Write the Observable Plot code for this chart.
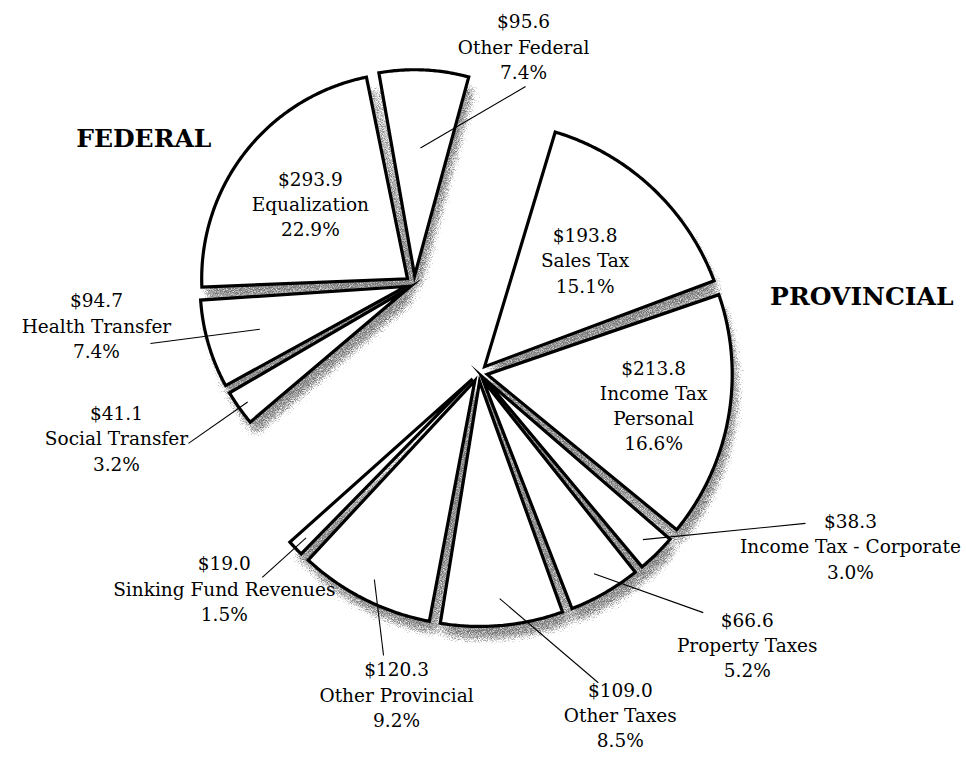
<!DOCTYPE html>
<html><head><meta charset="utf-8">
<script src="https://cdn.jsdelivr.net/npm/d3@7"></script>
<script src="https://cdn.jsdelivr.net/npm/@observablehq/plot@0.6"></script>
<style>body{margin:0;background:#fff}</style>
</head><body><div id="chart"></div>
<script>
// ---- data ----
const names = ["Sales Tax", "Income Tax Personal", "Income Tax - Corporate", "Property Taxes", "Other Taxes", "Other Provincial", "Sinking Fund Revenues", "Social Transfer", "Health Transfer", "Equalization", "Other Federal"];
const labelNames = ["Sales Tax", "Income Tax\nPersonal", "Income Tax - Corporate", "Property Taxes", "Other Taxes", "Other Provincial", "Sinking Fund Revenues", "Social Transfer", "Health Transfer", "Equalization", "Other Federal"];
const amounts = [193.8, 213.8, 38.3, 66.6, 109.0, 120.3, 19.0, 41.1, 94.7, 293.9, 95.6];
const percents = [15.1, 16.6, 3.0, 5.2, 8.5, 9.2, 1.5, 3.2, 7.4, 22.9, 7.4];
const groups = ["Provincial", "Provincial", "Provincial", "Provincial", "Provincial", "Provincial", "Provincial", "Federal", "Federal", "Federal", "Federal"];
const groupTitles = ["FEDERAL", "PROVINCIAL"];

// ---- layout (styling / placement only) ----
const W = 966, H = 769, S = 245, CX = 446, CY = 328;
const rad = d => d * Math.PI / 180;
const pol = (a, r) => [Math.sin(rad(a)) * r, Math.cos(rad(a)) * r];
const groupStyle = {
  Provincial: {dir: 144, dist: 0.224, R: 1.0, title: [85.7, 1.70]},
  Federal: {dir: 324, dist: 0.224, R: 0.84, title: [302, 1.457]}
};
const sliceExplode = 0.035;
const padDeg = 1.5;
const labelLayout = {
  "Sales Tax": {inside: 0.6},
  "Income Tax Personal": {inside: 0.69},
  "Equalization": {inside: 0.6},
  "Other Federal": {lead: 0.62, end: [18.1, 1.039], off: [-2, -41]},
  "Income Tax - Corporate": {lead: 0.92, end: [118.5, 1.667], off: [45, 22]},
  "Property Taxes": {lead: 0.91, end: [137.9, 1.563], off: [44, 31]},
  "Other Taxes": {lead: 0.89, end: [156.8, 1.573], off: [22, 31]},
  "Other Provincial": {lead: 0.91, end: [190.9, 1.359], off: [13, 38]},
  "Sinking Fund Revenues": {lead: 0.94, end: [216.5, 1.264], off: [-38, 10]},
  "Social Transfer": {lead: 0.95, end: [246, 1.153], off: [-72, -6]},
  "Health Transfer": {lead: 0.74, end: [267.1, 1.21], off: [-54, -19]}
};
const shadowOffset = [5 / S, -12 / S];

// ---- geometry from data ----
const rows = names.map((n, i) => ({name: n, label: labelNames[i], amount: amounts[i], pct: percents[i], group: groups[i]}));
const arcs = d3.pie().sort(null).value(d => d.amount).startAngle(rad(16)).endAngle(rad(376))(rows);

const poly = [], shadow = [], labels = [], links = [];
arcs.forEach((a, i) => {
  const d = a.data, g = groupStyle[d.group];
  const a0 = a.startAngle * 180 / Math.PI + padDeg / 2, a1 = a.endAngle * 180 / Math.PI - padDeg / 2, mid = (a0 + a1) / 2;
  const gc = pol(g.dir, g.dist), ex = pol(mid, sliceExplode);
  const apex = [gc[0] + ex[0], gc[1] + ex[1]];
  const pts = [];
  const n = Math.max(4, Math.ceil((a1 - a0) / 0.5));
  const arcPt = t => { const p = pol(t, g.R); return [apex[0] + p[0], apex[1] + p[1]]; };
  for (let k = Math.floor(n / 2); k <= n; k++) pts.push(arcPt(a0 + (a1 - a0) * k / n));
  pts.push(apex);
  for (let k = 0; k <= Math.floor(n / 2); k++) pts.push(arcPt(a0 + (a1 - a0) * k / n));
  pts.forEach(p => {
    poly.push({id: i, x: p[0], y: p[1]});
    shadow.push({id: i, x: p[0] + shadowOffset[0], y: p[1] + shadowOffset[1]});
  });
  const txt = "$" + d.amount.toFixed(1) + "\n" + d.label + "\n" + d.pct.toFixed(1) + "%";
  const L = labelLayout[d.name];
  if (L.inside) {
    const p = pol(mid, L.inside * g.R);
    labels.push({x: apex[0] + p[0], y: apex[1] + p[1], text: txt});
  } else {
    const p = pol(mid, L.lead * g.R);
    const s = [apex[0] + p[0], apex[1] + p[1]];
    const e = pol(L.end[0], L.end[1]);
    links.push({x1: s[0], y1: s[1], x2: e[0], y2: e[1]});
    labels.push({x: e[0] + L.off[0] / S, y: e[1] - L.off[1] / S, text: txt});
  }
});
const titles = groupTitles.map(t => {
  const g = groupStyle[t === "FEDERAL" ? "Federal" : "Provincial"];
  const p = pol(g.title[0], g.title[1]);
  return {x: p[0], y: p[1], text: t};
});

const FONT = "DejaVu Serif";
const svg = Plot.plot({
  width: W, height: H,
  margin: 0,
  x: {domain: [-CX / S, (W - CX) / S], axis: null},
  y: {domain: [-(H - CY) / S, CY / S], axis: null},
  marks: [
    Plot.line(shadow, {x: "x", y: "y", z: "id", fill: "black", stroke: "black", strokeWidth: 8}),
    Plot.line(poly, {x: "x", y: "y", z: "id", fill: "white", stroke: "black", strokeWidth: 3.2, strokeLinejoin: "miter", strokeMiterlimit: 20}),
    Plot.link(links, {x1: "x1", y1: "y1", x2: "x2", y2: "y2", stroke: "black", strokeWidth: 1.1}),
    Plot.text(labels, {x: "x", y: "y", text: "text", fontFamily: FONT, fontSize: 18.5, lineHeight: 1.36, fill: "black", textAnchor: "middle"}),
    Plot.text(titles, {x: "x", y: "y", text: "text", fontFamily: FONT, fontSize: 25, fontWeight: "bold", fill: "black", textAnchor: "middle"})
  ]
});
const sel = d3.select(svg);
const defs = sel.insert("defs", ":first-child");
const f = defs.append("filter").attr("id", "shadowDither")
  .attr("x", "-10%").attr("y", "-10%").attr("width", "120%").attr("height", "120%")
  .attr("color-interpolation-filters", "sRGB");
f.append("feGaussianBlur").attr("in", "SourceAlpha").attr("stdDeviation", 6).attr("result", "blur");
f.append("feTurbulence").attr("type", "fractalNoise").attr("baseFrequency", 1.1).attr("numOctaves", 2).attr("seed", 7).attr("result", "noise");
f.append("feColorMatrix").attr("in", "noise").attr("type", "matrix")
  .attr("values", "0 0 0 0 0  0 0 0 0 0  0 0 0 0 0  1 0 0 0 0").attr("result", "nA");
f.append("feComposite").attr("in", "blur").attr("in2", "nA").attr("operator", "arithmetic")
  .attr("k1", 0).attr("k2", 1.7).attr("k3", -2.0).attr("k4", 0.12).attr("result", "mask");
f.append("feFlood").attr("flood-color", "#767676").attr("result", "col");
f.append("feComposite").attr("in", "col").attr("in2", "mask").attr("operator", "in");
const lineGroups = sel.selectAll('g[aria-label="line"]').nodes();
if (lineGroups.length) d3.select(lineGroups[0]).attr("filter", "url(#shadowDither)");
document.getElementById("chart").appendChild(svg);
</script>
</body></html>
